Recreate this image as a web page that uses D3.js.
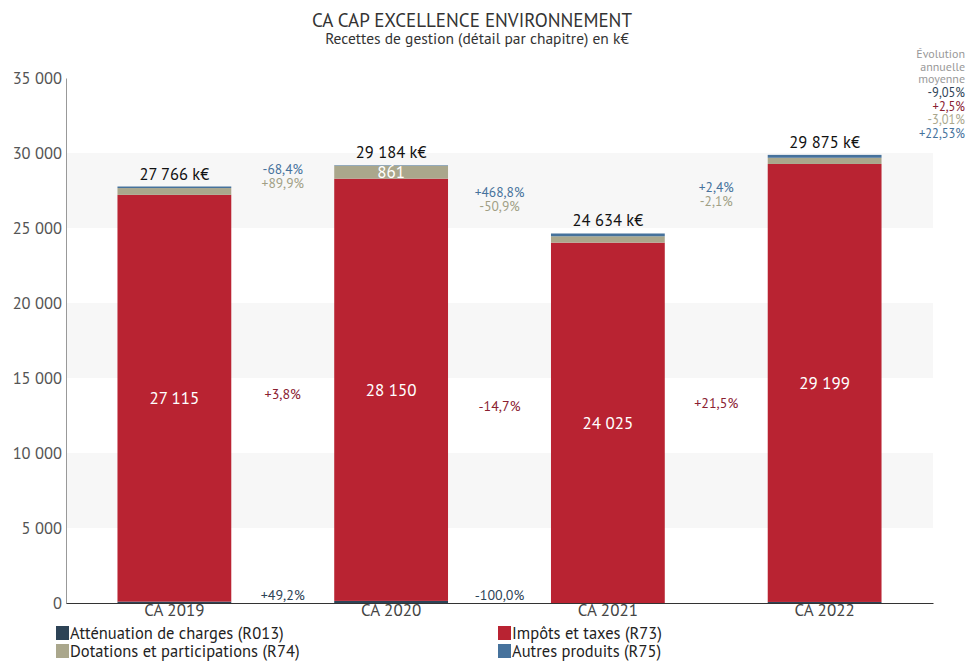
<!DOCTYPE html>
<html>
<head>
<meta charset="utf-8">
<script src="https://cdn.jsdelivr.net/npm/d3@7"></script>
<style>
  body { margin: 0; background: #fff; }
  text { font-family: "PT Sans", "Open Sans", sans-serif; }
</style>
</head>
<body>
<div id="chart"></div>
<script>
// data
var years = ["CA 2019", "CA 2020", "CA 2021", "CA 2022"];
var attenuation = [94, 140, 0, 70];
var impots = [27115, 28150, 24025, 29199];
var dotations = [453, 861, 423, 414];
var autres = [104, 33, 186, 192];
var totals = ["27 766 k€", "29 184 k€", "24 634 k€", "29 875 k€"];

var seriesNames = ["Atténuation de charges (R013)", "Impôts et taxes (R73)", "Dotations et participations (R74)", "Autres produits (R75)"];
var seriesColors = ["#2d4356", "#b92332", "#aaa78c", "#46729c"];

// evolutions between years
var evoImpots = ["+3,8%", "-14,7%", "+21,5%"];
var evoAtt = ["+49,2%", "-100,0%", null];
var evoAutres = ["-68,4%", "+468,8%", "+2,4%"];
var evoDot = ["+89,9%", "-50,9%", "-2,1%"];
var evoMoyenne = ["-9,05%", "+2,5%", "-3,01%", "+22,53%"];
var evoMoyColors = ["#2d4356", "#8a2030", "#aaa78c", "#46729c"];

var yTicks = [0, 5000, 10000, 15000, 20000, 25000, 30000, 35000];

var W = 968, H = 662;
var margin = { top: 78, right: 35, bottom: 59, left: 66 },
    width = W - margin.left - margin.right,
    height = H - margin.top - margin.bottom;

var svg = d3.select("#chart").append("svg")
    .attr("width", W).attr("height", H);

// titles
svg.append("text").attr("x", 472).attr("y", 27)
    .attr("text-anchor", "middle").style("font-size", "19px").style("fill", "#333")
    .text("CA CAP EXCELLENCE ENVIRONNEMENT");
svg.append("text").attr("x", 477).attr("y", 44)
    .attr("text-anchor", "middle").style("font-size", "15.5px").style("fill", "#333")
    .text("Recettes de gestion (détail par chapitre) en k€");

var g = svg.append("g").attr("transform", "translate(" + margin.left + "," + margin.top + ")");

var x = d3.scaleBand().domain(years).range([0, width])
    .paddingInner(0.475).paddingOuter(0.2375);
var y = d3.scaleLinear().domain([0, 35000]).range([height, 0]);

// alternating bands
g.selectAll(".band").data([5000, 15000, 25000]).enter().append("rect")
    .attr("x", 0).attr("width", width)
    .attr("y", function (d) { return y(d + 5000); })
    .attr("height", function (d) { return y(d) - y(d + 5000); })
    .style("fill", "#f7f7f7");

// y axis
var yAxis = g.append("g").call(d3.axisLeft(y).tickValues(yTicks).tickSize(0).tickPadding(4)
    .tickFormat(function (d) { return d3.format(",")(d).replace(/,/g, " "); }));
yAxis.select(".domain").attr("stroke", "#999");
yAxis.selectAll("text").style("font-size", "16.5px").style("fill", "#555")
    .style("font-family", "'PT Sans','Open Sans',sans-serif");

// stacked bars
var table = years.map(function (yr, i) {
    return { year: yr, att: attenuation[i], imp: impots[i], dot: dotations[i], aut: autres[i] };
});
var keys = ["att", "imp", "dot", "aut"];
var stack = d3.stack().keys(keys)(table);

g.selectAll(".layer").data(stack).enter().append("g")
    .style("fill", function (d, i) { return seriesColors[i]; })
    .selectAll("rect").data(function (d) { return d; }).enter().append("rect")
    .attr("x", function (d) { return x(d.data.year); })
    .attr("width", x.bandwidth())
    .attr("y", function (d) { return y(d[1]); })
    .attr("height", function (d) { return y(d[0]) - y(d[1]); });

// x axis
var xAxis = g.append("g").attr("transform", "translate(0," + height + ")")
    .call(d3.axisBottom(x).tickSize(0).tickPadding(1));
xAxis.select(".domain").attr("stroke", "#333");
xAxis.selectAll("text").style("font-size", "17px").style("fill", "#444")
    .style("font-family", "'PT Sans','Open Sans',sans-serif");

var fmt = function (v) { return d3.format(",")(v).replace(/,/g, " "); };

// values in red segments
g.selectAll(".impLab").data(stack[1]).enter().append("text")
    .attr("x", function (d) { return x(d.data.year) + x.bandwidth() / 2; })
    .attr("y", function (d) { return y((d[0] + d[1]) / 2); })
    .attr("dy", "0.35em").attr("text-anchor", "middle")
    .style("font-size", "17px").style("fill", "#fff")
    .text(function (d) { return fmt(d.data.imp); });

// dotations value when big enough
g.selectAll(".dotLab").data(stack[2].filter(function (d) { return d.data.dot > 800; })).enter().append("text")
    .attr("x", function (d) { return x(d.data.year) + x.bandwidth() / 2; })
    .attr("y", function (d) { return y((d[0] + d[1]) / 2); })
    .attr("dy", "0.35em").attr("text-anchor", "middle")
    .style("font-size", "17px").style("fill", "#fff")
    .text(function (d) { return fmt(d.data.dot); });

// totals
g.selectAll(".tot").data(stack[3]).enter().append("text")
    .attr("x", function (d) { return x(d.data.year) + x.bandwidth() / 2; })
    .attr("y", function (d) { return y(d[1]) - 7; })
    .attr("text-anchor", "middle")
    .style("font-size", "16.5px").style("fill", "#111")
    .text(function (d, i) { return totals[i]; });

// evolutions between bars
function midX(i) { return (x(years[i]) + x(years[i + 1]) + x.bandwidth()) / 2; }
function topOf(i) { return y(stack[3][i][1]); }
function midImp(i) { return y((stack[1][i][0] + stack[1][i][1]) / 2); }

evoImpots.forEach(function (t, i) {
    g.append("text").attr("x", midX(i)).attr("y", (midImp(i) + midImp(i + 1)) / 2)
        .attr("dy", "0.35em").attr("text-anchor", "middle")
        .style("font-size", "14px").style("fill", "#8a2030").text(t);
});
evoAtt.forEach(function (t, i) {
    if (!t) return;
    g.append("text").attr("x", midX(i)).attr("y", y(0) - 3)
        .attr("text-anchor", "middle")
        .style("font-size", "14px").style("fill", "#2d4356").text(t);
});
evoAutres.forEach(function (t, i) {
    var c = (topOf(i) + topOf(i + 1)) / 2;
    g.append("text").attr("x", midX(i)).attr("y", c - 7)
        .attr("dy", "0.35em").attr("text-anchor", "middle")
        .style("font-size", "13.5px").style("fill", "#46729c").text(t);
    g.append("text").attr("x", midX(i)).attr("y", c + 7)
        .attr("dy", "0.35em").attr("text-anchor", "middle")
        .style("font-size", "13.5px").style("fill", "#a19f85").text(evoDot[i]);
});

// average evolution, top right
var evoLines = ["Évolution", "annuelle", "moyenne"];
evoLines.forEach(function (t, i) {
    svg.append("text").attr("x", 965).attr("y", 58 + i * 12.5)
        .attr("text-anchor", "end").style("font-size", "12px").style("fill", "#999").text(t);
});
evoMoyenne.forEach(function (t, i) {
    svg.append("text").attr("x", 965).attr("y", 97 + i * 13.5)
        .attr("text-anchor", "end").style("font-size", "12.5px").style("fill", evoMoyColors[i]).text(t);
});

// legend
var legPos = [[56, 633], [498, 633], [56, 651], [498, 651]];
var leg = svg.selectAll(".leg").data(seriesNames).enter().append("g")
    .attr("transform", function (d, i) { return "translate(" + legPos[i][0] + "," + legPos[i][1] + ")"; });
leg.append("rect").attr("x", 0).attr("y", -7).attr("width", 13).attr("height", 14)
    .style("fill", function (d, i) { return seriesColors[i]; });
leg.append("text").attr("x", 14).attr("y", 0).attr("dy", "0.35em")
    .style("font-size", "16.5px").style("fill", "#222").text(function (d) { return d; });
</script>
</body>
</html>
